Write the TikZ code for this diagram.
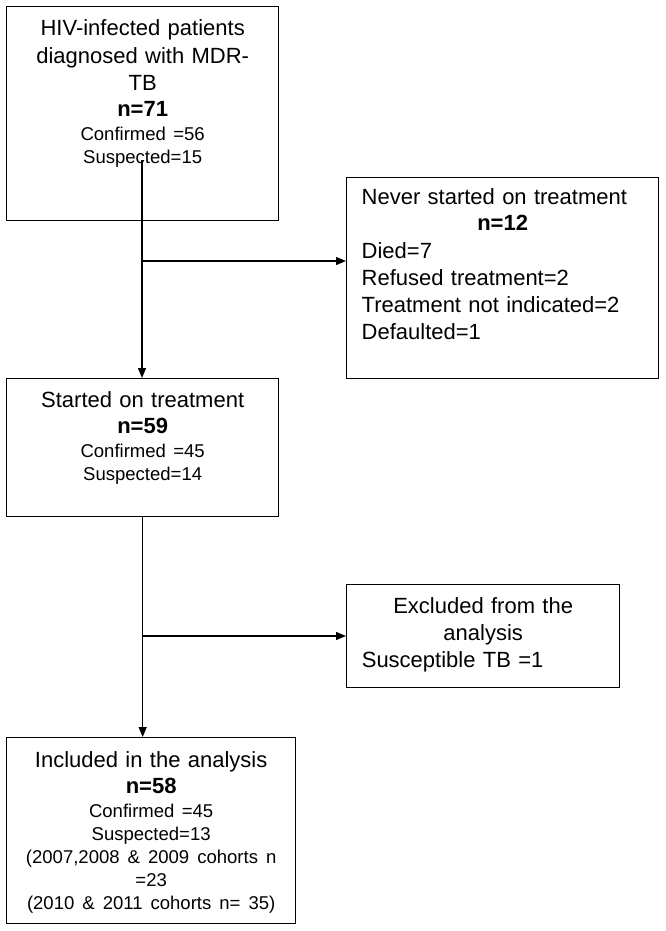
\documentclass[tikz,border=0pt]{standalone}
\usepackage{fontspec}
\setmainfont{Liberation Sans}
\usetikzlibrary{positioning, arrows.meta}
\newcommand{\txtbig}{\fontsize{16.5pt}{20.25pt}\selectfont}
\newcommand{\txtsmall}{\fontsize{13.9pt}{17.25pt}\selectfont}
\newcommand{\txtwide}{\txtsmall\spaceskip = 6pt\relax}

\begin{document}
\begin{tikzpicture}[x = .75pt, y = -.75pt, line width = 1pt,
    box/.style = {draw, inner sep = 0pt, anchor = north west},
    boxtext/.style = {inner sep = 0pt, anchor = north, font = \txtbig},
    > = {Triangle[length = 7.5pt, width = 6pt]}]
  \useasboundingbox (0,0) rectangle (665,931);
  % boxes
  \node (hiv)   at (6,6)     [box, minimum width = 204pt, minimum height = 160.5pt] {};
  \node (never) at (346,177) [box, minimum width = 234pt, minimum height = 150.75pt] {};
  \node (start) at (6,378)   [box, minimum width = 204pt, minimum height = 103.5pt] {};
  \node (excl)  at (346,584) [box, minimum width = 204.75pt, minimum height = 77.25pt] {};
  \node (incl)  at (6,737)   [box, minimum width = 216.75pt, minimum height = 139.5pt] {};
  % texts
  \node (hivtext) [boxtext, below = 9.75pt of hiv.north, text width = 200pt, align = center]
    {HIV-infected patients\\[.75pt] diagnosed with MDR-\\ TB\\[-.75pt]
     \textbf{n=71}\\[-2.25pt] {\txtsmall Confirmed =56}\\[-3pt] {\txtsmall Suspected=15}};
  \node (nevertext) [boxtext, below = 8.25pt of never.north, text width = 211.5pt, align = left]
    {Never started on treatment\\[-.75pt] \leavevmode\hfill\textbf{n=12}\hfill\null\\[.75pt]
     Died=7\\ Refused treatment=2\\ Treatment not indicated=2\\ Defaulted=1};
  \node (starttext) [boxtext, below = 9.75pt of start.north, text width = 200pt, align = center]
    {Started on treatment\\[-.75pt] \textbf{n=59}\\[-2.25pt]
     {\txtsmall Confirmed =45}\\[-3pt] {\txtsmall Suspected=14}};
  \node (excltext) [boxtext, below = 9.75pt of excl.north, text width = 182pt, align = left]
    {\leavevmode\hfill Excluded from the\hfill\null\\ \leavevmode\hfill analysis\hfill\null\\
     Susceptible TB =1};
  \node (incltext) [boxtext, below = 10.5pt of incl.north, text width = 216pt, align = center]
    {Included in the analysis\\[-.75pt] \textbf{n=58}\\[-2.25pt]
     {\txtsmall Confirmed =45}\\[-3pt] {\txtsmall Suspected=13}\\[-3pt]
     {\txtwide (2007,2008 \& 2009 cohorts n}\\[-3pt] {\txtsmall =23}\\[-3pt]
     {\txtwide (2010 \& 2011 cohorts n= 35)}};
  % connectors
  \coordinate (hivstem) at (142,160);
  \coordinate (split1)  at (142,261);
  \coordinate (split2)  at (142,636);
  \draw [->] (hivstem) -- (hivstem |- start.north);
  \draw [->] (split1) -- (split1 -| never.west);
  \draw [->] (start.south) -- (start.south |- incl.north);
  \draw [->] (split2) -- (split2 -| excl.west);
\end{tikzpicture}
\end{document}
